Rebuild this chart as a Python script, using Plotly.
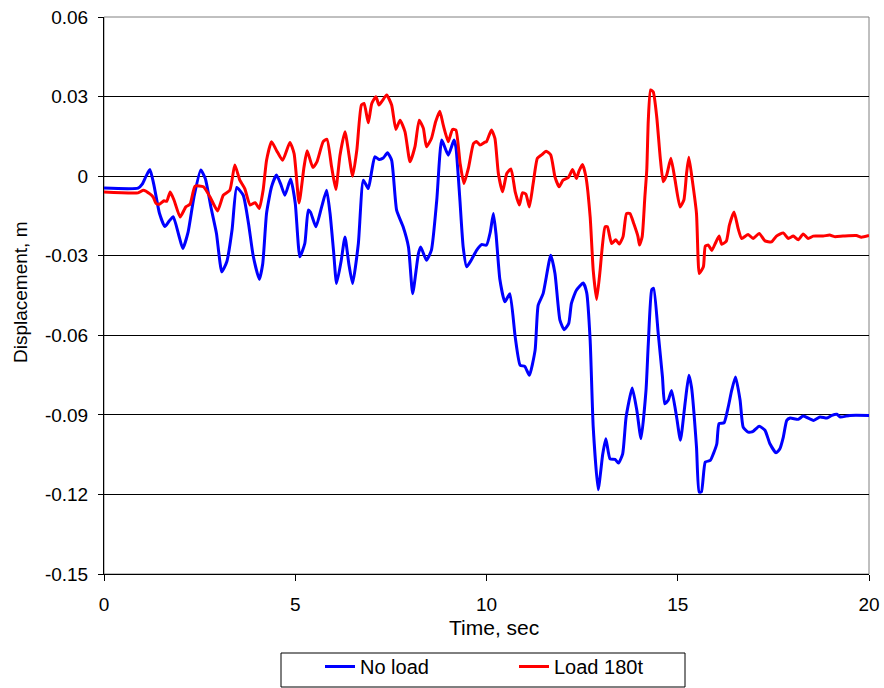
import plotly.graph_objects as go

# ---- data ----
t_noload = [0, 0.89, 1.0, 1.1, 1.2, 1.3, 1.45, 1.59, 1.7, 1.81, 1.95, 2.06, 2.2, 2.35, 2.53, 2.65, 2.8, 2.94,
            3.08, 3.21, 3.35, 3.47, 3.64, 3.78, 3.9, 4.06, 4.15, 4.25, 4.38, 4.51, 4.62, 4.73, 4.88, 5.0,
            5.12, 5.25, 5.34, 5.4, 5.54, 5.69, 5.82, 5.91, 6.0, 6.08, 6.2, 6.3, 6.4, 6.5, 6.65, 6.78, 6.91,
            7.0, 7.08, 7.19, 7.3, 7.41, 7.52, 7.65, 7.82, 7.96, 8.07, 8.22, 8.28, 8.43, 8.56, 8.7, 8.83, 9.0,
            9.15, 9.2, 9.3, 9.39, 9.48, 9.6, 9.74, 9.87, 10.0, 10.1, 10.18, 10.25, 10.35, 10.48, 10.61, 10.75,
            10.88, 11.0, 11.12, 11.27, 11.35, 11.48, 11.68, 11.79, 11.92, 12.03, 12.15, 12.22, 12.35, 12.53,
            12.62, 12.71, 12.79, 12.92, 13.04, 13.12, 13.23, 13.36, 13.45, 13.56, 13.65, 13.81, 13.93, 14.04,
            14.17, 14.23, 14.32, 14.37, 14.49, 14.6, 14.66, 14.75, 14.84, 14.97, 15.07, 15.19, 15.29, 15.36,
            15.49, 15.56, 15.62, 15.72, 15.85, 15.93, 16.02, 16.08, 16.21, 16.32, 16.41, 16.51, 16.63, 16.71,
            16.84, 16.97, 17.13, 17.28, 17.41, 17.57, 17.67, 17.76, 17.85, 17.94, 18.15, 18.28, 18.55, 18.72,
            18.9, 19.03, 19.16, 19.25, 19.5, 20.0]
d_noload = [-0.0045, -0.0045, -0.003, 0.0, 0.0025, -0.003, -0.014, -0.019, -0.017, -0.0153, -0.022, -0.0273,
            -0.021, -0.008, 0.0023, -0.001, -0.012, -0.0216, -0.0361, -0.0323, -0.02, -0.0043, -0.0072, -0.018,
            -0.030, -0.0389, -0.033, -0.014, -0.004, 0.0004, -0.003, -0.0072, -0.0011, -0.0102, -0.0304,
            -0.0254, -0.0128, -0.0136, -0.0191, -0.0116, -0.0053, -0.0141, -0.028, -0.0405, -0.032, -0.0229,
            -0.033, -0.0405, -0.0254, -0.0015, -0.0047, 0.002, 0.0073, 0.0063, 0.0068, 0.0088, 0.006, -0.0128,
            -0.0191, -0.0267, -0.0443, -0.0292, -0.0267, -0.0317, -0.0279, -0.009, 0.0136, 0.0079, 0.0136,
            0.011, -0.008, -0.0267, -0.0342, -0.0317, -0.028, -0.0258, -0.026, -0.021, -0.0141, -0.022, -0.039,
            -0.0474, -0.0443, -0.0606, -0.0713, -0.0717, -0.0751, -0.0657, -0.0487, -0.0443, -0.0298, -0.0367,
            -0.0543, -0.0579, -0.0555, -0.048, -0.043, -0.0403, -0.044, -0.0619, -0.0946, -0.1182, -0.1047,
            -0.099, -0.1066, -0.1068, -0.1082, -0.1047, -0.0908, -0.0799, -0.0883, -0.099, -0.0808, -0.0632,
            -0.0428, -0.0423, -0.0594, -0.0757, -0.0858, -0.0845, -0.0808, -0.0908, -0.0996, -0.0858, -0.0751,
            -0.0796, -0.1021, -0.1191, -0.119, -0.1078, -0.1072, -0.1047, -0.101, -0.0933, -0.093, -0.087,
            -0.0808, -0.0757, -0.0845, -0.0946, -0.0965, -0.0962, -0.0943, -0.0958, -0.1009, -0.1043, -0.1028,
            -0.0984, -0.0921, -0.0912, -0.0917, -0.0904, -0.0921, -0.0908, -0.0912, -0.0902, -0.0898, -0.0908,
            -0.0902, -0.0902]

t_load = [0, 0.89, 1.03, 1.2, 1.29, 1.36, 1.45, 1.57, 1.64, 1.73, 1.83, 1.99, 2.14, 2.25, 2.38, 2.6, 2.77, 2.97,
          3.12, 3.29, 3.42, 3.55, 3.68, 3.82, 3.95, 4.06, 4.16, 4.25, 4.38, 4.51, 4.67, 4.86, 4.97, 5.1, 5.23,
          5.31, 5.46, 5.57, 5.73, 5.83, 5.95, 6.06, 6.17, 6.3, 6.5, 6.61, 6.73, 6.8, 6.91, 7.0, 7.11, 7.19,
          7.28, 7.39, 7.52, 7.63, 7.74, 7.87, 8.0, 8.13, 8.24, 8.35, 8.43, 8.56, 8.67, 8.78, 8.87, 9.0, 9.11,
          9.2, 9.31, 9.41, 9.53, 9.66, 9.74, 9.83, 9.96, 10.0, 10.13, 10.22, 10.31, 10.42, 10.53, 10.64,
          10.75, 10.86, 10.94, 11.03, 11.12, 11.22, 11.33, 11.44, 11.56, 11.68, 11.79, 11.9, 12.0, 12.14,
          12.25, 12.35, 12.42, 12.51, 12.6, 12.71, 12.79, 12.88, 12.97, 13.01, 13.1, 13.16, 13.27, 13.38,
          13.47, 13.57, 13.66, 13.75, 13.85, 13.96, 14.0, 14.07, 14.14, 14.19, 14.23, 14.29, 14.36, 14.45,
          14.54, 14.62, 14.71, 14.82, 14.93, 15.06, 15.16, 15.23, 15.29, 15.38, 15.49, 15.53, 15.56, 15.67,
          15.72, 15.8, 15.89, 15.98, 16.08, 16.15, 16.27, 16.35, 16.47, 16.58, 16.67, 16.84, 16.97, 17.13,
          17.28, 17.45, 17.58, 17.76, 17.89, 18.02, 18.15, 18.28, 18.41, 18.54, 18.8, 18.97, 19.1, 19.32,
          19.67, 19.8, 20.0]
d_load = [-0.006, -0.0063, -0.0053, -0.0067, -0.008, -0.0103, -0.0106, -0.0093, -0.0095, -0.006, -0.009,
          -0.0154, -0.0116, -0.0106, -0.0038, -0.004, -0.0078, -0.0131, -0.0072, -0.0053, 0.0042, -0.0015,
          -0.0047, -0.0109, -0.0100, -0.0122, -0.0053, 0.006, 0.013, 0.0097, 0.006, 0.0127, 0.0085, -0.0101,
          0.0035, 0.0096, 0.0033, 0.0055, 0.013, 0.0139, 0.0035, -0.005, 0.0079, 0.0167, 0.0, 0.0098, 0.0268,
          0.0274, 0.0201, 0.0274, 0.0299, 0.0268, 0.0285, 0.0306, 0.0268, 0.0176, 0.0211, 0.0167, 0.0054,
          0.0111, 0.0211, 0.018, 0.0111, 0.0142, 0.0205, 0.0245, 0.0192, 0.013, 0.0176, 0.0174, 0.0048,
          -0.0028, 0.0032, 0.0123, 0.0131, 0.0117, 0.0128, 0.013, 0.0174, 0.0142, 0.001, -0.0059, 0.001,
          0.0027, -0.0059, -0.0109, -0.0063, -0.0068, -0.0116, -0.0028, 0.0067, 0.008, 0.0094, 0.008,
          -0.0003, -0.004, -0.0015, -0.0005, 0.0025, -0.0009, 0.002, 0.0044, -0.0003, -0.0154, -0.0355,
          -0.0465, -0.0355, -0.0292, -0.0191, -0.0191, -0.0254, -0.024, -0.0256, -0.0228, -0.0141, -0.0141,
          -0.0179, -0.0228, -0.026, -0.0228, -0.0078, 0.0023, 0.0211, 0.0325, 0.0317, 0.0224, 0.0073,
          -0.0021, 0.0004, 0.0067, -0.0015, -0.0116, -0.009, 0.001, 0.0071, -0.0015, -0.0141, -0.0304,
          -0.0367, -0.0342, -0.0264, -0.026, -0.028, -0.0254, -0.0226, -0.0257, -0.0245, -0.0185, -0.0135,
          -0.0198, -0.0235, -0.022, -0.0235, -0.0216, -0.0244, -0.0248, -0.0226, -0.0214, -0.0235, -0.0226,
          -0.024, -0.0218, -0.0235, -0.0226, -0.0226, -0.0222, -0.0228, -0.0226, -0.0224, -0.0230, -0.0224]

y_ticks = [0.06, 0.03, 0.0, -0.03, -0.06, -0.09, -0.12, -0.15]
y_ticklabels = ["0.06", "0.03", "0", "-0.03", "-0.06", "-0.09", "-0.12", "-0.15"]
x_ticks = [0, 5, 10, 15, 20]

FONT = "Liberation Sans, Arial, sans-serif"

# plot area in pixels (for placing titles / legend frame)
L, R, T, B = 104, 869, 17, 574
W, H = R - L, B - T


def px(x):
    return (x - L) / W


def py(y):
    return (B - y) / H


fig = go.Figure()
fig.add_trace(go.Scatter(x=t_noload, y=d_noload, mode="lines", name="No load",
                         line=dict(color="#0000FF", width=3, shape="spline", smoothing=0.5)))
fig.add_trace(go.Scatter(x=t_load, y=d_load, mode="lines", name="Load 180t",
                         line=dict(color="#FF0000", width=3, shape="spline", smoothing=0.5)))

fig.update_layout(
    width=884, height=688,
    margin=dict(l=L, r=884 - R, t=T, b=688 - B, autoexpand=False),
    paper_bgcolor="white", plot_bgcolor="white",
    font=dict(family=FONT, size=19, color="black"),
    showlegend=True,
    legend=dict(orientation="h", x=px(320), xanchor="left", y=py(686), yanchor="bottom",
                borderwidth=0, bgcolor="rgba(0,0,0,0)",
                font=dict(size=20), entrywidth=149, entrywidthmode="pixels",
                itemwidth=30, tracegroupgap=0),
    xaxis=dict(range=[0, 20], tickvals=x_ticks, ticks="outside", ticklen=6, tickcolor="black",
               showline=True, linecolor="black", linewidth=1, showgrid=False, zeroline=False,
               ticklabelstandoff=7, tickfont=dict(size=19), automargin=False),
    yaxis=dict(range=[-0.15, 0.06], tickvals=y_ticks, ticktext=y_ticklabels, ticks="outside",
               ticklen=5, tickcolor="black", showline=True, linecolor="black", linewidth=1,
               showgrid=True, gridcolor="black", gridwidth=1, zeroline=False,
               ticklabelstandoff=6, tickfont=dict(size=19), automargin=False),
    shapes=[
        dict(type="rect", xref="paper", yref="paper", x0=0, x1=1, y0=0, y1=1,
             line=dict(color="#808080", width=1), layer="below"),
        dict(type="rect", xref="paper", yref="paper", x0=px(281), x1=px(685), y0=py(687), y1=py(653),
             line=dict(color="black", width=1), fillcolor="white", layer="below"),
    ],
    annotations=[
        dict(text="Time, sec", xref="paper", yref="paper", x=px(494), y=py(627),
             xanchor="center", yanchor="middle", showarrow=False, font=dict(size=21)),
        dict(text="Displacement, m", xref="paper", yref="paper", x=px(20), y=py(292),
             xanchor="center", yanchor="middle", textangle=-90,
             showarrow=False, font=dict(size=19)),
    ],
)

fig.write_html("out.html")
